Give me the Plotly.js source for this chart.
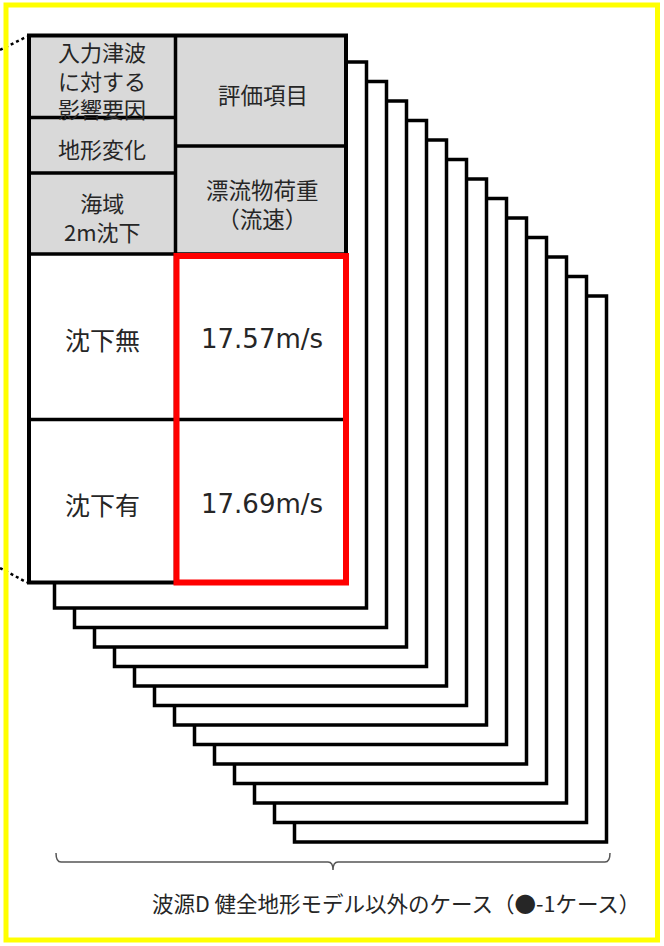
<!DOCTYPE html>
<html>
<head>
<meta charset="utf-8">
<script src="https://cdn.plot.ly/plotly-3.0.1.min.js"></script>
<style>
  html, body { margin: 0; padding: 0; background: #ffffff; }
  #chart { width: 664px; height: 946px; }
</style>
</head>
<body>
<div id="chart"></div>
<script>
// ---------------- data ----------------
const factorHeaders = [['入力津波', 'に対する', '影響要因'], ['地形変化'], ['海域', '2m沈下']];
const itemHeaders = [['評価項目'], ['漂流物荷重', '（流速）']];
const rowLabels = ['沈下無', '沈下有'];
const flowSpeeds = [17.57, 17.69];
const speedUnit = 'm/s';
const stackedSheetCount = 13;
const caption = '波源D 健全地形モデル以外のケース（●-1ケース）';

// ---------------- geometry / style ----------------
const W = 664, H = 946;
const G = {
  x0: 29, x1: 346, colX: 175.5,
  y0: 35.5, headY: 254, rowY: 419.5, y1: 582.5,
  leftDivs: [117.5, 173], rightDiv: 146,
  sheetX0: 54.5, sheetX1: 366.5, sheetY0: 62, sheetY1: 608, sheetDX: 20, sheetDY: 19.5,
  textShift: 3
};
const INK = '#262626';
const CJK = 'Noto Sans CJK JP, sans-serif';
const LAT = 'DejaVu Sans, Noto Sans CJK JP, sans-serif';
const BW = 3.5;

const shapes = [];
const annotations = [];

function rect(x0, y0, x1, y1, line, fill) {
  shapes.push({type: 'rect', xref: 'x', yref: 'y', x0, y0, x1, y1,
    line: line, fillcolor: fill || 'rgba(0,0,0,0)'});
}
function seg(x0, y0, x1, y1, line) {
  shapes.push({type: 'line', xref: 'x', yref: 'y', x0, y0, x1, y1, line});
}
function label(x, y, text, size, family) {
  annotations.push({xref: 'x', yref: 'y', x, y, text, showarrow: false,
    xanchor: 'center', yanchor: 'middle', align: 'center',
    font: {family: family || CJK, size, color: INK}});
}
function cellText(lines, cx, yTop, yBot, size, family) {
  const cy = (yTop + yBot) / 2 + G.textShift;
  label(cx, cy, lines.join('<br>'), size, family);
}

// stacked sheets (back to front)
for (let k = stackedSheetCount - 1; k >= 0; k--) {
  rect(G.sheetX0 + G.sheetDX * k, G.sheetY0 + G.sheetDY * k,
       G.sheetX1 + G.sheetDX * k, G.sheetY1 + G.sheetDY * k,
       {color: '#000', width: BW}, '#ffffff');
}

// main table fills
rect(G.x0, G.y0, G.x1, G.headY, {width: 0}, '#d9d9d9');
rect(G.x0, G.headY, G.x1, G.y1, {width: 0}, '#ffffff');

// inner lines
const blk = {color: '#000', width: BW};
seg(G.colX, G.y0, G.colX, G.y1, blk);
G.leftDivs.forEach(y => seg(G.x0, y, G.colX, y, blk));
seg(G.colX, G.rightDiv, G.x1, G.rightDiv, blk);
seg(G.x0, G.headY, G.x1, G.headY, blk);
seg(G.x0, G.rowY, G.x1, G.rowY, blk);
// outer border
rect(G.x0, G.y0, G.x1, G.y1, {color: '#000', width: 4});

// red highlight around values
rect(G.colX + 1, G.headY + 2, G.x1, G.y1, {color: '#ff0000', width: 6});

// dotted leader lines
seg(0, 50, G.x0 - 2, G.y0 + 1, {color: '#000', width: 2.5, dash: 'dot'});
seg(0, 568, G.x0 - 2, G.y1, {color: '#000', width: 2.5, dash: 'dot'});

// brace
shapes.push({type: 'path', xref: 'x', yref: 'y',
  path: 'M56,853 Q56,862 61,862 L328,862 Q333,862 333,870 Q333,862 338,862 L605,862 Q610,862 610,853',
  line: {color: '#555555', width: 1.5}});

// yellow frame
rect(6, 5, 657.5, 940, {color: '#ffff00', width: 5});

// header texts
const leftBounds = [G.y0, G.leftDivs[0], G.leftDivs[1], G.headY];
factorHeaders.forEach((lines, i) => {
  cellText(lines, (G.x0 + G.colX) / 2, leftBounds[i], leftBounds[i + 1], 22, CJK);
});
const rightBounds = [G.y0, G.rightDiv, G.headY];
itemHeaders.forEach((lines, i) => {
  cellText(lines, (G.colX + G.x1) / 2 + 2, rightBounds[i], rightBounds[i + 1], 22.5, CJK);
});

// body rows
const rowBounds = [G.headY, G.rowY, G.y1];
rowLabels.forEach((lab, i) => {
  cellText([lab], (G.x0 + G.colX) / 2, rowBounds[i], rowBounds[i + 1] - 1, 25, CJK);
  cellText([flowSpeeds[i].toFixed(2) + speedUnit], (G.colX + G.x1) / 2 + 1,
           rowBounds[i], rowBounds[i + 1] - 1, 26, LAT);
});

// caption
label(396, 902, caption, 21.5, CJK);

const layout = {
  width: W, height: H,
  margin: {l: 0, r: 0, t: 0, b: 0, pad: 0},
  paper_bgcolor: '#ffffff', plot_bgcolor: '#ffffff',
  xaxis: {range: [0, W], visible: false, fixedrange: true},
  yaxis: {range: [H, 0], visible: false, fixedrange: true},
  showlegend: false,
  shapes, annotations
};

Plotly.newPlot('chart', [{x: [], y: [], type: 'scatter', mode: 'markers', hoverinfo: 'skip'}],
  layout, {displayModeBar: false, staticPlot: true});
</script>
</body>
</html>
